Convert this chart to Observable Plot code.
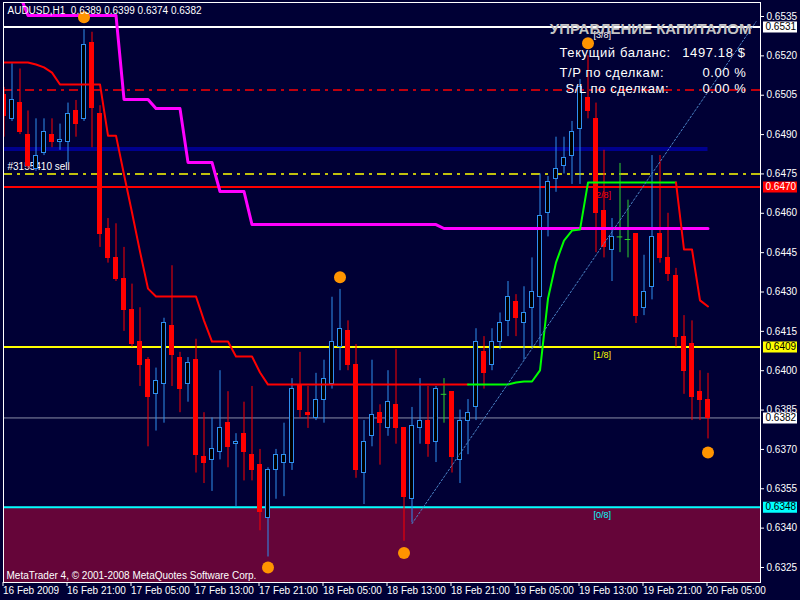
<!DOCTYPE html>
<html><head><meta charset="utf-8">
<script src="https://cdn.jsdelivr.net/npm/d3@7"></script>
<script src="https://cdn.jsdelivr.net/npm/@observablehq/plot@0.6"></script>
<style>html,body{margin:0;padding:0;background:#000035;} #chart{width:800px;height:600px;overflow:hidden;}
.panel text{letter-spacing:0.6px;}</style>
</head><body><div id="chart"></div>
<script>
// ---------- DATA ----------
const symbolHeader = "AUDUSD,H1  0.6389 0.6399 0.6374 0.6382";
const footerText = "MetaTrader 4, © 2001-2008 MetaQuotes Software Corp.";
const panelTitle = "УПРАВЛЕНИЕ КАПИТАЛОМ";
const panelRows = ["Текущий баланс:", "T/P по сделкам:", "S/L по сделкам:"];
const panelValues = ["1497.18 $", "0.00 %", "0.00 %"];
const orderText = "#3155410 sell";

const xTickIdx = [0, 8, 16, 24, 32, 40, 48, 56, 64, 72, 80, 88];
const xTickLabels = ["16 Feb 2009", "16 Feb 21:00", "17 Feb 05:00", "17 Feb 13:00", "17 Feb 21:00",
  "18 Feb 05:00", "18 Feb 13:00", "18 Feb 21:00", "19 Feb 05:00", "19 Feb 13:00", "19 Feb 21:00", "20 Feb 05:00"];
const yTicks = [0.6325, 0.6340, 0.6355, 0.6370, 0.6385, 0.6400, 0.6415, 0.6430, 0.6445, 0.6460,
  0.6475, 0.6490, 0.6505, 0.6520, 0.6535];

// hourly candles, bar 0 = 16 Feb 13:00
const openP = [0.6505,0.6496,0.6502,0.6490,0.6477,0.6483,0.6490,0.6487,0.6487,0.6499,
  0.6496,0.6525,0.6498,0.6454,0.6443,0.6435,0.6423,0.6411,0.6404,0.6391,
  0.6395,0.6417,0.6405,0.6395,0.6404,0.6367,0.6366,0.6369,0.6380,0.6372,
  0.6376,0.6368,0.6364,0.6344,0.6362,0.6365,0.6365,0.6394,0.6384,0.6382,
  0.6389,0.6395,0.6409,0.6415,0.6402,0.6361,0.6375,0.6384,0.6378,0.6387,
  0.6378,0.6351,0.6378,0.6381,0.6373,0.6391,0.6392,0.6366,0.6381,0.6386,
  0.6407,0.6402,0.6411,0.6419,0.6426,0.6418,0.6424,0.6428,0.6460,0.6473,
  0.6478,0.6482,0.6492,0.6504,0.6496,0.6461,0.6446,0.6451,0.6450,0.6452,
  0.6424,0.6432,0.6452,0.6443,0.6436,0.6413,0.6410,0.6392,0.6389];
const highP = [0.6508,0.6517,0.6515,0.6499,0.6496,0.6496,0.6496,0.6494,0.6502,0.6503,
  0.6530,0.6529,0.6501,0.6458,0.6456,0.6447,0.6433,0.6424,0.6405,0.6401,
  0.6420,0.6440,0.6407,0.6405,0.6412,0.6384,0.6382,0.6400,0.6392,0.6376,
  0.6388,0.6394,0.6370,0.6363,0.6370,0.6380,0.6397,0.6407,0.6394,0.6399,
  0.6404,0.6428,0.6431,0.6419,0.6410,0.6381,0.6404,0.6387,0.6400,0.6408,
  0.6378,0.6386,0.6397,0.6394,0.6394,0.6397,0.6392,0.6385,0.6389,0.6416,
  0.6413,0.6416,0.6422,0.6434,0.6429,0.6432,0.6443,0.6475,0.6474,0.6489,
  0.6489,0.6495,0.6511,0.6520,0.6502,0.6484,0.6458,0.6479,0.6465,0.6452,
  0.6444,0.6482,0.6482,0.6460,0.6439,0.6421,0.6419,0.6400,0.6399];
const lowP = [0.6489,0.6495,0.6490,0.6477,0.6476,0.6482,0.6485,0.6484,0.6479,0.6489,
  0.6495,0.6485,0.6447,0.6441,0.6434,0.6415,0.6409,0.6394,0.6371,0.6377,
  0.6380,0.6394,0.6384,0.6388,0.6361,0.6357,0.6354,0.6366,0.6363,0.6348,
  0.6358,0.6358,0.6339,0.6329,0.6351,0.6352,0.6362,0.6382,0.6378,0.6381,
  0.6380,0.6393,0.6400,0.6400,0.6359,0.6349,0.6371,0.6364,0.6375,0.6372,
  0.6335,0.6342,0.6372,0.6367,0.6365,0.6380,0.6361,0.6357,0.6368,0.6381,
  0.6393,0.6400,0.6408,0.6413,0.6413,0.6404,0.6409,0.6409,0.6451,0.6468,
  0.6475,0.6471,0.6471,0.6496,0.6445,0.6443,0.6434,0.6445,0.6443,0.6418,
  0.6421,0.6427,0.6441,0.6434,0.6409,0.6391,0.6381,0.6381,0.6374];
const closeP = [0.6497,0.6503,0.6491,0.6478,0.6482,0.6491,0.6487,0.6488,0.6498,0.6494,
  0.6524,0.6500,0.6452,0.6443,0.6435,0.6423,0.6410,0.6402,0.6390,0.6396,
  0.6418,0.6406,0.6393,0.6403,0.6368,0.6365,0.6370,0.6378,0.6371,0.6373,
  0.6369,0.6362,0.6346,0.6362,0.6368,0.6368,0.6393,0.6385,0.6383,0.6389,
  0.6397,0.6411,0.6416,0.6402,0.6362,0.6373,0.6383,0.6380,0.6388,0.6378,
  0.6352,0.6379,0.6381,0.6372,0.6393,0.6391,0.6367,0.6381,0.6384,0.6411,
  0.6399,0.6411,0.6418,0.6428,0.6420,0.6422,0.6430,0.6459,0.6472,0.6477,
  0.6481,0.6491,0.6508,0.6499,0.6460,0.6447,0.6451,0.6451,0.6450,0.6421,
  0.6430,0.6451,0.6443,0.6437,0.6413,0.6400,0.6390,0.6389,0.6382];

// magenta step indicator, starts at bar 2
const magentaStart = 2;
const magentaLine = [0.6543,
  0.65354,0.65354,0.65354,0.65354,0.65354,0.65354,0.65354,0.65354,0.65354,0.65354,0.65354,0.65354,
  0.65034,0.65034,0.65034,0.65034,
  0.64999,0.64999,0.64999,0.64999,
  0.64794,0.64794,0.64794,0.64794,
  0.64683,0.64683,0.64683,0.64683,
  0.64557,0.64557,0.64557,0.64557,0.64557,0.64557,0.64557,0.64557,0.64557,0.64557,0.64557,0.64557,
  0.64557,0.64557,0.64557,0.64557,0.64557,0.64557,0.64557,0.64557,0.64557,0.64557,0.64557,0.64557,
  0.64542,0.64542,0.64542,0.64542,0.64542,0.64542,0.64542,0.64542,0.64542,0.64542,0.64542,0.64542,
  0.64542,0.64542,0.64542,0.64542,0.64542,0.64542,0.64542,0.64542,0.64542,0.64542,0.64542,0.64542,
  0.64542,0.64542,0.64542,0.64542,0.64542,0.64542,0.64542,0.64542,0.64542,0.64542];

// trailing trend line: red (down) / green (up) segments
const trendRed1Start = 0;
const trendRed1 = [0.65175,0.65175,0.65175,0.65175,0.65167,0.65156,0.65136,
  0.65091,0.65091,0.65091,0.65091,0.65091,0.65091,0.64896,0.64896,0.64748,0.64603,0.64454,0.64313,
  0.64283,0.64283,0.64283,0.64283,0.64283,0.64283,0.64191,0.64111,0.64111,0.64111,
  0.64054,0.64054,0.64054,0.63993,
  0.63947,0.63947,0.63947,0.63947,0.63947,0.63947,0.63947,0.63947,0.63947,0.63947,0.63947,0.63947,0.63947,
  0.63947,0.63947,0.63947,0.63947,0.63947,0.63947,0.63947,0.63947,0.63947,0.63947,0.63947,0.63947,0.63947];
const trendGreenStart = 58;
const trendGreen = [0.63947,0.63947,0.63947,0.63947,0.63947,0.63947,0.63955,0.63959,0.63959,
  0.64001,0.64275,0.64412,0.64496,0.64534,0.64538,
  0.64717,0.64717,0.64717,0.64717,0.64717,0.64717,0.64717,0.64717,0.64717,0.64717,0.64717,0.64717];
const trendRed2Start = 84;
const trendRed2 = [0.64717,0.64462,0.64462,0.64268,0.64245];

// Murrey math levels
const murreyValues = [0.6348, 0.6409, 0.6470, 0.6531];
const murreyLabels = ["[0/8]", "[1/8]", "[2/8]", "[3/8]"];
const murreyColors = ["#00ffff", "#ffff00", "#ff0000", "#ffffff"];

const bidPrice = 0.6382;
const orderOpen = 0.6475;
const orderStop = 0.6507;
const navyLevel = 0.64845;
const navyLevelEnd = 88;

// dotted trend line: [bar, price]
const dottedLineBars = [51, 94];
const dottedLinePrices = [0.63417, 0.65330];

// fractal markers
const fractalBars = [10, 42, 73, 33, 50, 88];
const fractalPrices = [0.65347, 0.64356, 0.65248, 0.63250, 0.63305, 0.63688];

// ---------- BUILD ----------
const BG = "#000035", BLUE = "#2f8ff0", RED = "#ff0000", DOJI = "#2ed02e";
const xDomain = [-0.0625, 94.5625];
const yDomain = [0.631928, 0.654034];

const bars = openP.map((o, i) => ({i, o, h: highP[i], l: lowP[i], c: closeP[i]}));
const kind = d => d.c > d.o ? "bull" : d.c < d.o ? "bear" : "doji";
const bodies = bars.filter(d => kind(d) !== "doji");
const dojis = bars.filter(d => kind(d) === "doji");
const series = (arr, start) => arr.map((v, k) => ({i: start + k, v}));
const murrey = murreyValues.map((v, k) => ({v, label: murreyLabels[k], color: murreyColors[k]}));
const boxes = [
  {v: murreyValues[3], bg: "#ffffff", fg: "#000000"},
  {v: murreyValues[2], bg: "#ff0000", fg: "#ffffff"},
  {v: murreyValues[1], bg: "#ffff00", fg: "#000000"},
  {v: bidPrice, bg: "#ffffff", fg: "#000000"},
  {v: murreyValues[0], bg: "#00ffff", fg: "#000000"}
];
const dotted = dottedLineBars.map((b, k) => ({i: b, v: dottedLinePrices[k]}));
const fractals = fractalBars.map((b, k) => ({i: b, v: fractalPrices[k]}));

const rowDx = [556, 556, 562], rowDy = [50.5, 70, 86], valDx = [742, 743, 743];
const panelMarks = [];
panelRows.forEach((t, k) => {
  panelMarks.push(Plot.text([t], {text: d => d, frameAnchor: "top-left", dx: rowDx[k], dy: rowDy[k], textAnchor: "start", lineAnchor: "middle", fill: "white", fontSize: 13, className: "panel"}));
  panelMarks.push(Plot.text([panelValues[k]], {text: d => d, frameAnchor: "top-left", dx: valDx[k], dy: rowDy[k], textAnchor: "end", lineAnchor: "middle", fill: "white", fontSize: 13, className: "panel"}));
});

const chart = Plot.plot({
  width: 800, height: 600,
  marginLeft: 3, marginRight: 40, marginTop: 2, marginBottom: 18,
  x: {domain: xDomain},
  y: {domain: yDomain},
  color: {type: "identity"},
  style: {background: BG, color: "white", fontFamily: "'Liberation Sans', Arial, sans-serif", fontSize: "10px"},
  marks: [
    Plot.rect([{}], {x1: xDomain[0], x2: xDomain[1], y1: yDomain[0], y2: murreyValues[0], fill: "#650539"}),
    Plot.ruleY(murrey, {y: "v", stroke: "color", strokeWidth: 2}),
    Plot.text(murrey, {y: "v", text: "label", fill: "color", frameAnchor: "left", dx: 590, dy: 8, textAnchor: "start", fontSize: 9}),
    Plot.ruleY([bidPrice], {stroke: "#8a8ea8", strokeWidth: 1}),
    Plot.ruleY([orderStop], {stroke: "#ff0000", strokeWidth: 1.5, strokeDasharray: "9 5 3 5"}),
    Plot.ruleY([orderOpen], {stroke: "#ffff00", strokeWidth: 1.5, strokeDasharray: "9 5 3 5"}),
    Plot.text([orderText], {x: xDomain[0], y: orderOpen, text: d => d, dx: 4, dy: -7, textAnchor: "start", fill: "white"}),
    Plot.ruleY([navyLevel], {x1: xDomain[0], x2: navyLevelEnd, stroke: "#00008e", strokeWidth: 4}),
    // candles
    Plot.ruleX(bars, {x: "i", y1: "l", y2: "h", stroke: d => kind(d) === "bull" ? BLUE : kind(d) === "bear" ? RED : DOJI, strokeWidth: 1, clip: true}),
    Plot.rect(bodies, {x1: d => d.i - 0.25, x2: d => d.i + 0.25, y1: "o", y2: "c",
      fill: d => kind(d) === "bull" ? "#000000" : RED, stroke: d => kind(d) === "bull" ? BLUE : RED, strokeWidth: 1, shapeRendering: "crispEdges", clip: true}),
    Plot.ruleY(dojis, {y: "o", x1: d => d.i - 0.35, x2: d => d.i + 0.35, stroke: DOJI, strokeWidth: 1}),
    // indicators
    Plot.line(series(magentaLine, magentaStart), {x: "i", y: "v", stroke: "#ff00ff", strokeWidth: 3, clip: true}),
    Plot.line(series(trendRed1, trendRed1Start), {x: "i", y: "v", stroke: "#ff0000", strokeWidth: 2, clip: true}),
    Plot.line(series(trendGreen, trendGreenStart), {x: "i", y: "v", stroke: "#00ff00", strokeWidth: 2, clip: true}),
    Plot.line(series(trendRed2, trendRed2Start), {x: "i", y: "v", stroke: "#ff0000", strokeWidth: 2, clip: true}),
    Plot.line(dotted, {x: "i", y: "v", stroke: "#4a82c4", strokeWidth: 1, strokeDasharray: "2 2", clip: true}),
    Plot.dot(fractals, {x: "i", y: "v", r: 6, fill: "#ff9400", stroke: "none", clip: true}),
    // panel text
    Plot.text([symbolHeader], {text: d => d, frameAnchor: "top-left", dx: 4, dy: 8, textAnchor: "start", lineAnchor: "middle", fill: "white"}),
    Plot.text([panelTitle], {text: d => d, frameAnchor: "top-left", dx: 748, dy: 27, textAnchor: "end", lineAnchor: "middle", fill: "#c4c4c4", fontWeight: "bold", fontSize: 15}),
    ...panelMarks,
    Plot.text([footerText], {text: d => d, frameAnchor: "top-left", dx: 3, dy: 573, textAnchor: "start", lineAnchor: "middle", fill: "white"}),
    Plot.frame({stroke: "white"}),
    Plot.axisY({anchor: "right", ticks: yTicks, tickFormat: d => d.toFixed(4), tickSize: 3, tickPadding: 3, label: null, fontSize: 10}),
    Plot.axisX({ticks: xTickIdx, tickFormat: d => xTickLabels[xTickIdx.indexOf(d)], textAnchor: "start", tickSize: 4, tickPadding: 0, dx: -1, label: null, fontSize: 10}),
    Plot.ruleY(boxes, {y: "v", stroke: "bg", strokeWidth: 11, insetLeft: 760, insetRight: -37}),
    Plot.text(boxes, {y: "v", text: d => d.v.toFixed(4), fill: "fg", frameAnchor: "right", dx: 5, textAnchor: "start", fontSize: 10})
  ]
});
document.getElementById("chart").appendChild(chart);
</script></body></html>
